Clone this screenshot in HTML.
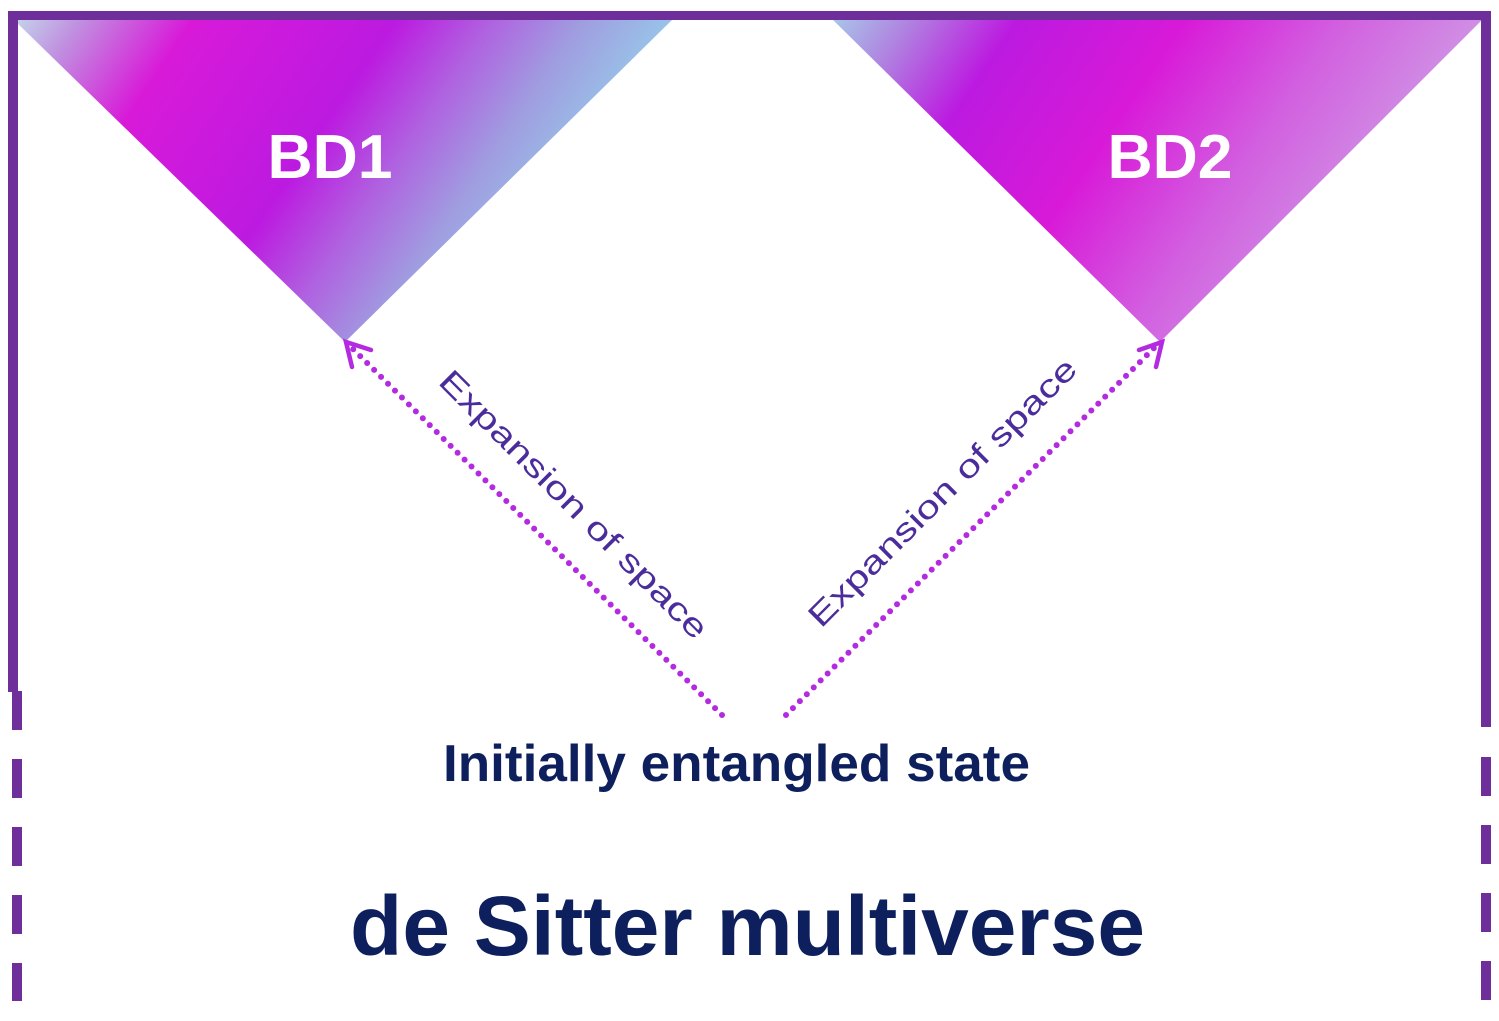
<!DOCTYPE html>
<html><head><meta charset="utf-8"><style>
html,body{margin:0;padding:0;background:#fff;}
svg{display:block;}
</style></head><body>
<svg width="1499" height="1021" viewBox="0 0 1499 1021" xmlns="http://www.w3.org/2000/svg">
<defs>
<linearGradient id="g1" gradientUnits="userSpaceOnUse" x1="19" y1="13" x2="472" y2="319">
<stop offset="0" stop-color="#c4d4ea"/>
<stop offset="0.1" stop-color="#c090e0"/>
<stop offset="0.27" stop-color="#d81ad8"/>
<stop offset="0.45" stop-color="#c81ade"/>
<stop offset="0.58" stop-color="#bc1ae0"/>
<stop offset="0.72" stop-color="#b060e0"/>
<stop offset="0.86" stop-color="#a09ce0"/>
<stop offset="1" stop-color="#98c4e8"/>
</linearGradient>
<linearGradient id="g2" gradientUnits="userSpaceOnUse" x1="583" y1="393" x2="1030" y2="695">
<stop offset="0" stop-color="#a8c4e8"/>
<stop offset="0.12" stop-color="#b080e0"/>
<stop offset="0.28" stop-color="#bc1ae0"/>
<stop offset="0.54" stop-color="#d81ad8"/>
<stop offset="0.78" stop-color="#d260e0"/>
<stop offset="1" stop-color="#d090e4"/>
</linearGradient>
</defs>

<polygon points="14,20 672,20 345,342" fill="url(#g1)"/>
<polygon points="833,20 1482,20 1160,342" fill="url(#g2)"/>

<rect x="8" y="11" width="1483" height="9" fill="#6e2f9a"/>
<rect x="8" y="11" width="10" height="681" fill="#6e2f9a"/>
<rect x="1481" y="11" width="10" height="716" fill="#6e2f9a"/>
<g fill="#6e2f9a">
<rect x="12" y="691" width="10" height="39"/>
<rect x="12" y="759" width="10" height="39"/>
<rect x="12" y="827" width="10" height="39"/>
<rect x="12" y="895" width="10" height="39"/>
<rect x="12" y="963" width="10" height="38"/>
<rect x="1481" y="757" width="10" height="39"/>
<rect x="1481" y="825" width="10" height="39"/>
<rect x="1481" y="893" width="10" height="39"/>
<rect x="1481" y="961" width="10" height="39"/>
</g>

<text x="330" y="178" text-anchor="middle" font-family="Liberation Sans, sans-serif" font-size="62" font-weight="bold" fill="#fff" textLength="125" lengthAdjust="spacingAndGlyphs">BD1</text>
<text x="1170" y="178" text-anchor="middle" font-family="Liberation Sans, sans-serif" font-size="62" font-weight="bold" fill="#fff" textLength="125" lengthAdjust="spacingAndGlyphs">BD2</text>

<g stroke="#b42ae0" stroke-width="6" stroke-linecap="round" fill="none">
<line x1="722" y1="715" x2="352" y2="348" stroke-dasharray="0 9.8"/>
<line x1="786" y1="715" x2="1154" y2="348" stroke-dasharray="0 9.8"/>
</g>
<g stroke="#b42ae0" stroke-width="4.5" fill="none" stroke-linecap="round">
<polyline points="371,350 346,342 352,367"/>
<polyline points="1139,350 1162,342 1156,367"/>
</g>

<text transform="translate(566,512) rotate(45)" text-anchor="middle" font-family="Liberation Sans, sans-serif" font-size="32" fill="#4b2c9c" textLength="365" lengthAdjust="spacingAndGlyphs">Expansion of space</text>
<text transform="translate(950,500) rotate(-45)" text-anchor="middle" font-family="Liberation Sans, sans-serif" font-size="32" fill="#4b2c9c" textLength="365" lengthAdjust="spacingAndGlyphs">Expansion of space</text>

<text x="443" y="781" font-family="Liberation Sans, sans-serif" font-size="52" font-weight="bold" fill="#0d1f5c" textLength="587" lengthAdjust="spacingAndGlyphs">Initially entangled state</text>
<text x="350" y="955" font-family="Liberation Sans, sans-serif" font-size="84" font-weight="bold" fill="#0d1f5c" textLength="795" lengthAdjust="spacingAndGlyphs">de Sitter multiverse</text>
</svg>
</body></html>
